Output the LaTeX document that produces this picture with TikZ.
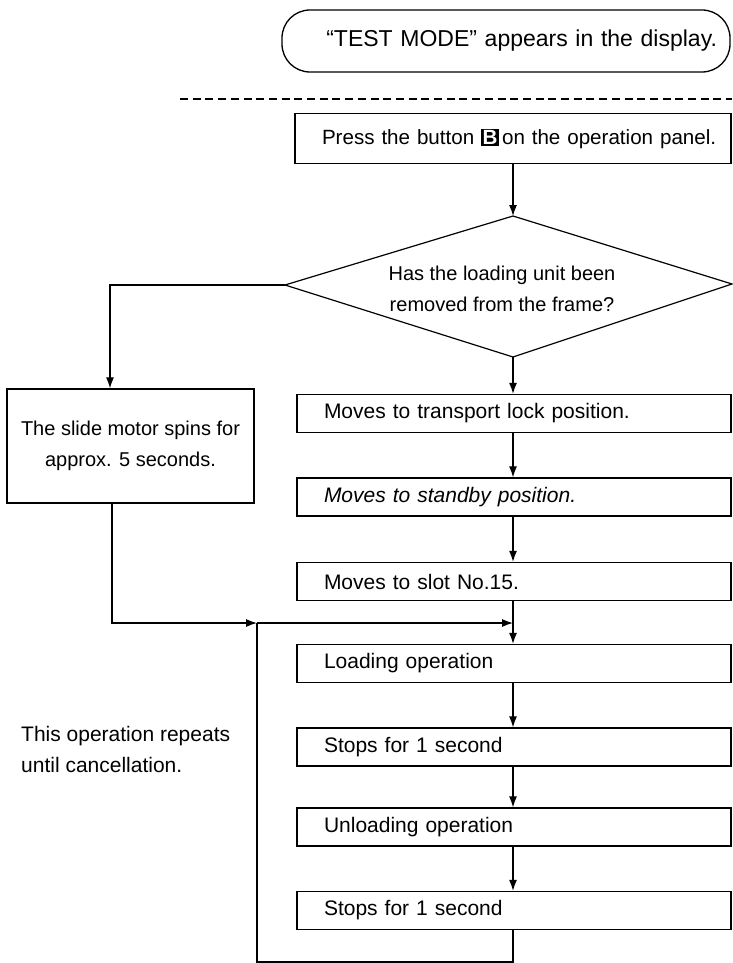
\documentclass[tikz,border=0pt]{standalone}
\usepackage{fontspec}
\setmainfont{Liberation Sans}
\usetikzlibrary{arrows.meta}
\newcommand\btnB{{\setlength\fboxsep{1.5pt}\colorbox{black}{\textcolor{white}{\textbf{B}}}}}
\begin{document}
\begin{tikzpicture}[x=1pt,y=-1pt,
  every node/.style={font=\fontsize{21}{31}\selectfont},
  smallfont/.style={font=\fontsize{20}{31}\selectfont},
  line/.style={line width=1.2pt},
  arr/.style={line width=1.2pt,-{Latex[length=11pt,width=8pt]}},
  rbox/.style={draw,line width=1.3pt,minimum width=434pt,minimum height=38pt,
    text width=380pt,align=left,inner xsep=27pt,inner ysep=0pt}
]
\useasboundingbox (0,0) rectangle (732,963);

% start terminal
\node[draw,line width=1.3pt,rounded corners=28pt,minimum width=448pt,minimum height=62pt,
  text width=422pt,align=right,inner xsep=13pt,font=\fontsize{23}{31}\selectfont] (start) at (506,41)
  {“TEST MODE” appears in the display.};

% dashed separator
\coordinate (sepl) at (180,99);
\coordinate (sepr) at (732,99);
\draw[line width=1.2pt,dash pattern=on 8pt off 4.7pt] (sepl) -- (sepr);

\coordinate (mx) at (513,0);

% press box
\node[draw,line width=1.3pt,minimum width=436pt,minimum height=50pt,text width=436pt,
  align=left,inner xsep=0pt,inner ysep=0pt,font=\fontsize{20.6}{31}\selectfont] (press) at (513,138.5)
  {\hspace*{27pt}Press the button \btnB\hspace{3pt}on the operation panel.};

% decision diamond
\coordinate (dt) at (513,216);
\coordinate (dr) at (732,284);
\coordinate (db) at (513,357);
\coordinate (dl) at (285,285);
\draw[line width=1.2pt] (dt) -- (dr) -- (db) -- (dl) -- cycle;
\node[smallfont,align=center] (q) at (502,289) {Has the loading unit been\\removed from the frame?};

% left box
\node[draw,line width=1.3pt,smallfont,minimum width=247pt,minimum height=114pt,align=center,inner sep=0pt]
  (lbox) at (130.5,446) {The slide motor spins for\\approx. 5 seconds.};

% right column
\node[rbox] (b1) at (514,413.5) {Moves to transport lock position.};
\node[rbox] (b2) at (514,497) {\itshape Moves to standby position.};
\node[rbox] (b3) at (514,581.5) {Moves to slot No.15.};
\node[rbox] (b4) at (514,663.5) {Loading operation};
\node[rbox] (b5) at (514,747) {Stops for 1 second};
\node[rbox] (b6) at (514,827) {Unloading operation};
\node[rbox] (b7) at (514,910.5) {Stops for 1 second};

% note
\node[anchor=west,align=left,inner sep=0pt] (note) at (21,749) {This operation repeats\\until cancellation.};

% connectors
\draw[arr] (press.south -| mx) -- (dt);
\draw[arr] (db) -- (b1.north -| mx);
\draw[arr] (b1.south -| mx) -- (b2.north -| mx);
\draw[arr] (b2.south -| mx) -- (b3.north -| mx);
\draw[arr] (b3.south -| mx) -- (b4.north -| mx);
\draw[arr] (b4.south -| mx) -- (b5.north -| mx);
\draw[arr] (b5.south -| mx) -- (b6.north -| mx);
\draw[arr] (b6.south -| mx) -- (b7.north -| mx);

\coordinate (lx) at (110,0);
\coordinate (lx2) at (112,0);
\draw[arr] (dl) -| (lbox.north -| lx);

\coordinate (jl) at (257,623);
\coordinate (jr) at (513,623);
\coordinate (lp) at (257,962);
\draw[arr] (lbox.south -| lx2) |- (jl);
\draw[arr] (jl) -- (jr);
\draw[line] (b7.south -| mx) |- (lp) -- (jl);
\end{tikzpicture}
\end{document}
